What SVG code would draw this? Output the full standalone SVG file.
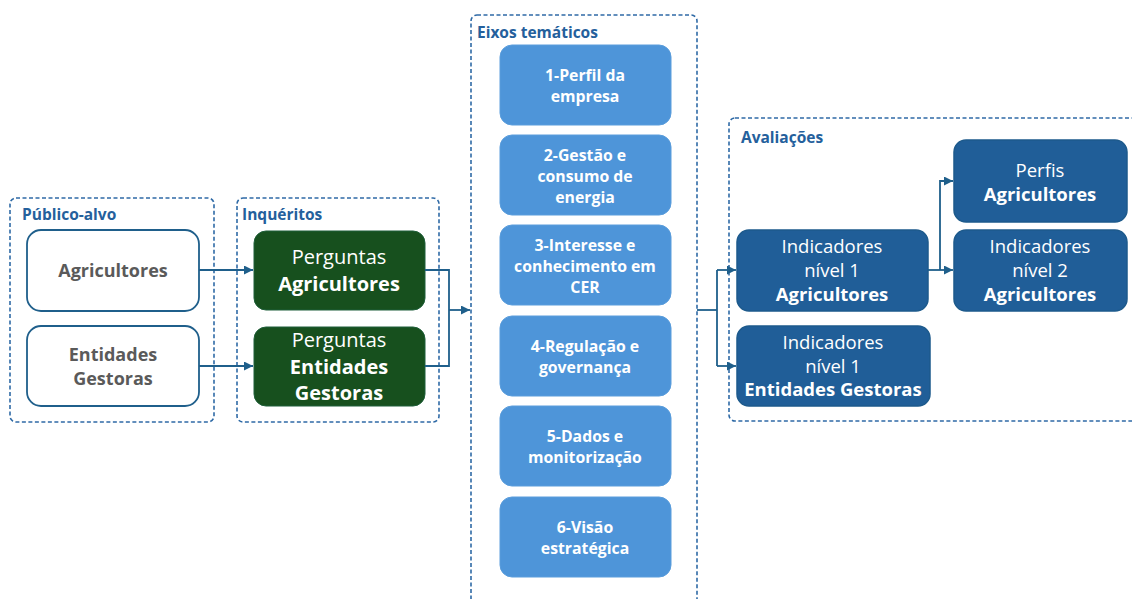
<svg xmlns="http://www.w3.org/2000/svg" width="1132" height="599" viewBox="0 0 1132 599">
<style>
.cont{fill:none;stroke:#2f6aa6;stroke-width:1.6;stroke-dasharray:4 2.5}
.lbl{font-family:"Open Sans","Liberation Sans",sans-serif;font-weight:bold;font-size:15.5px;fill:#24609c}
.wbox{fill:#fff;stroke:#1f5f8b;stroke-width:1.8}
.gbox{fill:#17501e;stroke:#1f5f3a;stroke-width:1}
.ebox{fill:#4e95d9;stroke:#5a9ddc;stroke-width:1}
.abox{fill:#205e98;stroke:#1d5a8c;stroke-width:1.5}
.t{font-family:"Open Sans","Liberation Sans",sans-serif;text-anchor:middle}
.gray{fill:#5a5a5a;font-weight:bold;font-size:18px}
.wn{fill:#fff;font-size:18.5px}
.wb{fill:#fff;font-size:18.5px;font-weight:bold}
.pn{fill:#fff;font-size:20px}
.pb{fill:#fff;font-size:20px;font-weight:bold}
.we{fill:#fff;font-size:15.8px;font-weight:bold}
.conn{fill:none;stroke:#1f5f8b;stroke-width:1.8}
</style>
<defs>
<marker id="ah" viewBox="0 0 10 10" refX="10" refY="5" markerWidth="5" markerHeight="5" orient="auto" markerUnits="strokeWidth">
<path d="M0,0 L10,5 L0,10 z" fill="#1f5f8b"/>
</marker>
</defs>

<g id="publico-alvo">
<rect class="cont" x="10" y="198" width="204" height="224" rx="6"/>
<text class="lbl" x="22" y="220">Público-alvo</text>
</g>
<g id="inqueritos">
<rect class="cont" x="237" y="198" width="202" height="224" rx="6"/>
<text class="lbl" x="242" y="220">Inquéritos</text>
</g>
<g id="eixos">
<rect class="cont" x="471" y="15" width="226" height="600" rx="6"/>
<text class="lbl" x="477" y="38">Eixos temáticos</text>
</g>
<g id="avaliacoes">
<rect class="cont" x="729" y="118" width="420" height="303" rx="6"/>
<text class="lbl" x="741" y="143">Avaliações</text>
</g>

<g id="agricultores">
<rect class="wbox" x="27" y="230" width="172" height="81" rx="14"/>
<text class="t gray" x="113" y="277">Agricultores</text>
</g>
<g id="entidades">
<rect class="wbox" x="27" y="326" width="172" height="80" rx="14"/>
<text class="t gray" x="113" y="361">Entidades</text>
<text class="t gray" x="113" y="385">Gestoras</text>
</g>

<g id="perguntas-agricultores">
<rect class="gbox" x="254" y="231" width="171" height="79" rx="12"/>
<text class="t pn" x="339" y="264">Perguntas</text>
<text class="t pb" x="339" y="291">Agricultores</text>
</g>
<g id="perguntas-entidades">
<rect class="gbox" x="254" y="327" width="171" height="79" rx="12"/>
<text class="t pn" x="339" y="347">Perguntas</text>
<text class="t pb" x="339" y="374">Entidades</text>
<text class="t pb" x="339" y="400">Gestoras</text>
</g>

<g id="eixo1">
<rect class="ebox" x="500" y="45" width="171" height="80" rx="12"/>
<text class="t we" x="585" y="81">1-Perfil da</text>
<text class="t we" x="585" y="102">empresa</text>
</g>
<g id="eixo2">
<rect class="ebox" x="500" y="135" width="171" height="80" rx="12"/>
<text class="t we" x="585" y="161">2-Gestão e</text>
<text class="t we" x="585" y="182">consumo de</text>
<text class="t we" x="585" y="203">energia</text>
</g>
<g id="eixo3">
<rect class="ebox" x="500" y="225" width="171" height="80" rx="12"/>
<text class="t we" x="585" y="251">3-Interesse e</text>
<text class="t we" x="585" y="272">conhecimento em</text>
<text class="t we" x="585" y="293">CER</text>
</g>
<g id="eixo4">
<rect class="ebox" x="500" y="316" width="171" height="80" rx="12"/>
<text class="t we" x="585" y="352">4-Regulação e</text>
<text class="t we" x="585" y="373">governança</text>
</g>
<g id="eixo5">
<rect class="ebox" x="500" y="406" width="171" height="80" rx="12"/>
<text class="t we" x="585" y="442">5-Dados e</text>
<text class="t we" x="585" y="463">monitorização</text>
</g>
<g id="eixo6">
<rect class="ebox" x="500" y="497" width="171" height="80" rx="12"/>
<text class="t we" x="585" y="533">6-Visão</text>
<text class="t we" x="585" y="554">estratégica</text>
</g>

<g id="ind1-agricultores">
<rect class="abox" x="737" y="230" width="191" height="81" rx="12"/>
<text class="t wn" x="832" y="253">Indicadores</text>
<text class="t wn" x="832" y="277">nível 1</text>
<text class="t wb" x="832" y="301">Agricultores</text>
</g>
<g id="ind1-entidades">
<rect class="abox" x="737" y="326" width="193" height="80" rx="12"/>
<text class="t wn" x="833" y="349">Indicadores</text>
<text class="t wn" x="833" y="373">nível 1</text>
<text class="t wb" x="833" y="396">Entidades Gestoras</text>
</g>
<g id="perfis">
<rect class="abox" x="954" y="140" width="173" height="82" rx="12"/>
<text class="t wn" x="1040" y="177">Perfis</text>
<text class="t wb" x="1040" y="201">Agricultores</text>
</g>
<g id="ind2-agricultores">
<rect class="abox" x="954" y="230" width="173" height="81" rx="12"/>
<text class="t wn" x="1040" y="253">Indicadores</text>
<text class="t wn" x="1040" y="277">nível 2</text>
<text class="t wb" x="1040" y="301">Agricultores</text>
</g>

<g id="connectors">
<path class="conn" d="M199,270 H253" marker-end="url(#ah)"/>
<path class="conn" d="M199,366 H253" marker-end="url(#ah)"/>
<path class="conn" d="M425,270 H449 V366 H425"/>
<path class="conn" d="M449,310 H470" marker-end="url(#ah)"/>
<path class="conn" d="M697,310 H717"/>
<path class="conn" d="M717,270 V366"/>
<path class="conn" d="M717,270 H736" marker-end="url(#ah)"/>
<path class="conn" d="M717,366 H736" marker-end="url(#ah)"/>
<path class="conn" d="M928,270 H953" marker-end="url(#ah)"/>
<path class="conn" d="M940,270 V181 H953" marker-end="url(#ah)"/>
</g>
</svg>
